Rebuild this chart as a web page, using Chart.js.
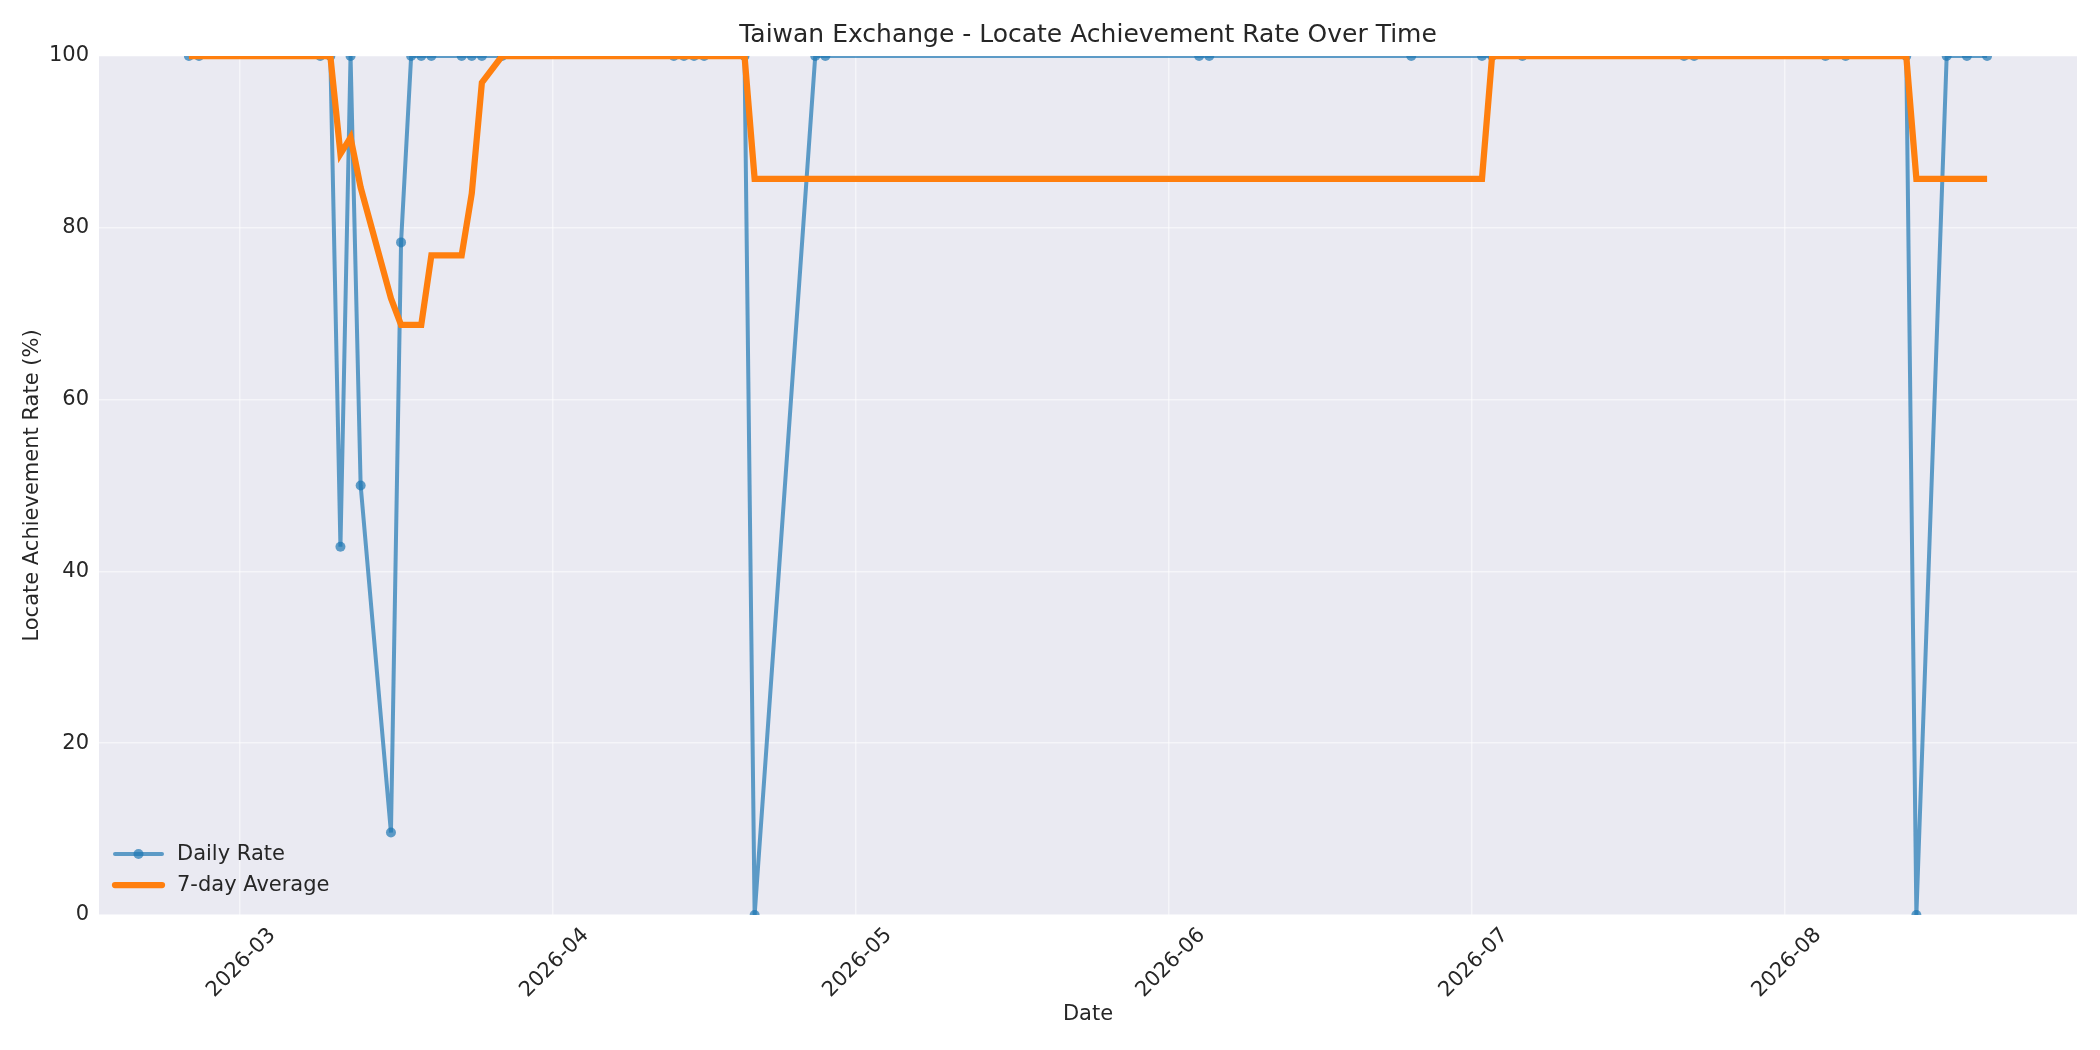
<!DOCTYPE html>
<html>
<head>
<meta charset="utf-8">
<title>Taiwan Exchange - Locate Achievement Rate Over Time</title>
<script src="https://cdn.jsdelivr.net/npm/chart.js@4.4.1/dist/chart.umd.min.js"></script>
<style>
  html, body { margin: 0; padding: 0; background: #ffffff; }
  canvas { display: block; }
</style>
</head>
<body>
<canvas id="chart" width="2100" height="1050"></canvas>
<script>
// trading days that have a locate record
const dates = [
  "2026-02-24", "2026-02-25", "2026-03-09", "2026-03-10", "2026-03-11",
  "2026-03-12", "2026-03-13", "2026-03-16", "2026-03-17", "2026-03-18",
  "2026-03-19", "2026-03-20", "2026-03-23", "2026-03-24", "2026-03-25",
  "2026-03-27", "2026-04-13", "2026-04-14", "2026-04-15", "2026-04-16",
  "2026-04-20", "2026-04-21", "2026-04-27", "2026-04-28", "2026-06-04",
  "2026-06-05", "2026-06-25", "2026-07-02", "2026-07-03", "2026-07-06",
  "2026-07-22", "2026-07-23", "2026-08-05", "2026-08-07", "2026-08-13",
  "2026-08-14", "2026-08-17", "2026-08-19", "2026-08-21",
];
const dailyRate = [
  100, 100, 100, 100, 42.86,
  100, 50, 9.6, 78.3, 100,
  100, 100, 100, 100, 100,
  100, 100, 100, 100, 100,
  100, 0, 100, 100, 100,
  100, 100, 100, 100, 100,
  100, 100, 100, 100, 100,
  0, 100, 100, 100,
];
const sevenDayAvg = [
  100, 100, 100, 100, 88.6,
  90.5, 84.7, 71.8, 68.7, 68.7,
  68.7, 76.8, 76.8, 84.0, 96.9,
  100, 100, 100, 100, 100,
  100, 85.7, 85.7, 85.7, 85.7,
  85.7, 85.7, 85.7, 100, 100,
  100, 100, 100, 100, 100,
  85.7, 85.7, 85.7, 85.7,
];
const monthTicks = ["2026-03-01", "2026-04-01", "2026-05-01", "2026-06-01", "2026-07-01", "2026-08-01"];
const monthLabels = ["2026-03", "2026-04", "2026-05", "2026-06", "2026-07", "2026-08"];

const chartTitle = "Taiwan Exchange - Locate Achievement Rate Over Time";
const blue = "rgba(31, 119, 180, 0.7)";
const orange = "#ff7f0e";
const textColor = "#262626";
const gridColor = "rgba(255,255,255,0.5)";
const fontFamily = "'DejaVu Sans', 'Liberation Sans', sans-serif";

// day number since epoch, so a linear axis behaves like a date axis
const toDay = (s) => Date.UTC(+s.slice(0, 4), +s.slice(5, 7) - 1, +s.slice(8, 10)) / 86400000;

const xs = dates.map(toDay);
const span = xs[xs.length - 1] - xs[0];
const xMin = xs[0] - span * 0.05;
const xMax = xs[xs.length - 1] + span * 0.05;

// title centred over the plot area (like matplotlib), not the whole canvas
const axesTitle = {
  id: "axesTitle",
  afterDraw(chart) {
    const { ctx, chartArea } = chart;
    ctx.save();
    ctx.fillStyle = textColor;
    ctx.font = "25px " + fontFamily;
    ctx.textAlign = "center";
    ctx.textBaseline = "middle";
    ctx.fillText(chartTitle, (chartArea.left + chartArea.right) / 2, 35);
    ctx.restore();
  },
};

// matplotlib-style legend sitting in the lower left of the plot
const insideLegend = {
  id: "insideLegend",
  afterDraw(chart) {
    const { ctx, chartArea } = chart;
    const rows = [
      { ds: chart.data.datasets[0], y: chartArea.bottom - 61 },
      { ds: chart.data.datasets[1], y: chartArea.bottom - 30 },
    ];
    const x0 = chartArea.left + 16;
    const x1 = chartArea.left + 63;
    ctx.save();
    rows.forEach(({ ds, y }) => {
      ctx.beginPath();
      ctx.strokeStyle = ds.borderColor;
      ctx.lineWidth = ds.borderWidth;
      ctx.lineCap = "round";
      ctx.moveTo(x0, y);
      ctx.lineTo(x1, y);
      ctx.stroke();
      if (ds.pointRadius > 0) {
        ctx.beginPath();
        ctx.fillStyle = ds.pointBackgroundColor;
        ctx.arc((x0 + x1) / 2, y, ds.pointRadius, 0, Math.PI * 2);
        ctx.fill();
      }
      ctx.fillStyle = textColor;
      ctx.font = "21px " + fontFamily;
      ctx.textAlign = "left";
      ctx.textBaseline = "middle";
      ctx.fillText(ds.label, chartArea.left + 78, y + 1);
    });
    ctx.restore();
  },
};

new Chart(document.getElementById("chart").getContext("2d"), {
  type: "line",
  data: {
    datasets: [
      {
        label: "Daily Rate",
        data: xs.map((x, i) => ({ x, y: dailyRate[i] })),
        borderColor: blue,
        borderWidth: 4,
        pointRadius: 5,
        pointBorderWidth: 0,
        pointBackgroundColor: blue,
        tension: 0,
        clip: 0,
        order: 1,
      },
      {
        label: "7-day Average",
        data: xs.map((x, i) => ({ x, y: sevenDayAvg[i] })),
        borderColor: orange,
        borderWidth: 6.25,
        pointRadius: 0,
        tension: 0,
        clip: 0,
        order: 0,
      },
    ],
  },
  options: {
    responsive: false,
    animation: false,
    devicePixelRatio: 1,
    layout: { padding: { left: 0, right: 23, top: 56, bottom: 0 } },
    plugins: {
      legend: { display: false },
      tooltip: { enabled: false },
      title: { display: false },
    },
    scales: {
      x: {
        type: "linear",
        min: xMin,
        max: xMax,
        border: { display: false },
        grid: { color: gridColor, lineWidth: 1.5, drawTicks: false },
        afterBuildTicks: (scale) => {
          scale.ticks = monthTicks.map((d) => ({ value: toDay(d) }));
        },
        afterFit: (scale) => { scale.height = 135; },
        ticks: {
          autoSkip: false,
          maxRotation: 45,
          minRotation: 45,
          labelOffset: 33,
          padding: 8,
          color: textColor,
          font: { family: fontFamily, size: 21 },
          callback: (value) => monthLabels[monthTicks.findIndex((d) => toDay(d) === value)],
        },
        title: {
          display: true,
          text: "Date",
          color: textColor,
          font: { family: fontFamily, size: 21 },
          padding: { top: 0, bottom: 22.5 },
        },
      },
      y: {
        min: 0,
        max: 100,
        border: { display: false },
        grid: { color: gridColor, lineWidth: 1.5, drawTicks: false },
        afterFit: (scale) => { scale.width = 99; },
        ticks: {
          stepSize: 20,
          padding: 10,
          color: textColor,
          font: { family: fontFamily, size: 21 },
        },
        title: {
          display: true,
          text: "Locate Achievement Rate (%)",
          color: textColor,
          font: { family: fontFamily, size: 21 },
          padding: { top: 19.5, bottom: 0 },
        },
      },
    },
  },
  plugins: [
    {
      id: "plotBackground",
      beforeDraw(chart) {
        const { ctx, chartArea: a } = chart;
        ctx.save();
        ctx.fillStyle = "#eaeaf2";
        ctx.fillRect(a.left, a.top, a.right - a.left, a.bottom - a.top);
        ctx.restore();
      },
    },
    axesTitle,
    insideLegend,
  ],
});
</script>
</body>
</html>
